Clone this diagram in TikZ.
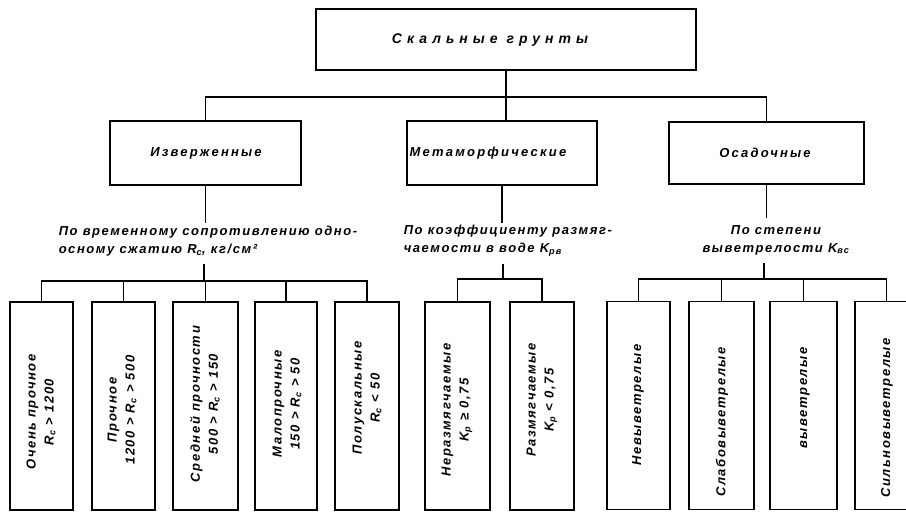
\documentclass[tikz,border=0pt]{standalone}
\usepackage{fontspec}
\setmainfont{Liberation Sans}
\begin{document}
\begin{tikzpicture}[x=1pt,y=-1pt,line width=1.5pt,
  box/.style={draw,line width=1.5pt,inner sep=0pt},
  ttop/.style={inner sep=0pt,font=\bfseries\itshape\fontsize{14}{16}\selectfont\addfontfeature{LetterSpace=36}},
  tmid/.style={inner sep=0pt,font=\bfseries\itshape\fontsize{13}{15}\selectfont\addfontfeature{LetterSpace=17}},
  tlab/.style={inner sep=0pt,font=\bfseries\itshape\fontsize{13}{18}\selectfont\addfontfeature{LetterSpace=12}},
  trot/.style={inner sep=0pt,rotate=90,align=center,font=\bfseries\itshape\fontsize{13}{18}\selectfont\addfontfeature{LetterSpace=12}},
  tall/.style={box,minimum height=208pt}]
\clip (0,0) rectangle (906,514);
\fill[white] (0,0) rectangle (906,514);
% top level
\node[box,minimum width=380pt,minimum height=61pt] (top) at (506,39.5) {};
\node[ttop] (topt) at (490,40) {Скальные грунты};
% second level
\node[box,minimum width=191pt,minimum height=64pt] (izv) at (205.5,153) {};
\node[tmid] (izvt) at (206,153) {Изверженные};
\node[box,minimum width=190pt,minimum height=64pt] (met) at (502,153) {};
\node[tmid] (mett) at (488,153) {Метаморфические};
\node[box,minimum width=195pt,minimum height=62pt] (osa) at (766.5,153) {};
\node[tmid] (osat) at (765,153) {Осадочные};
\coordinate (bus) at (506,97);
\draw (top.south) -- (top.south |- met.north);
\draw (izv.north) |- (bus) -| (osa.north);
% criteria labels
\node[tlab,align=left,anchor=west] (lab1) at (58,241) {По временному сопротивлению одно-\\осному сжатию R\textsubscript{с}, кг/см²};
\node[tlab,align=left,anchor=west] (lab2) at (403,241) {По коэффициенту размяг-\\чаемости в воде K\textsubscript{рв}};
\node[tlab,align=center] (lab3) at (776,240) {По степени\\выветрелости K\textsubscript{вс}};
% bottom boxes
\node[tall,minimum width=63pt] (b1) at (41.5,406) {};
\node[tall,minimum width=63pt] (b2) at (123.5,406) {};
\node[tall,minimum width=65pt] (b3) at (205.5,406) {};
\node[tall,minimum width=62pt] (b4) at (286,406) {};
\node[tall,minimum width=64pt] (b5) at (367,406) {};
\node[tall,minimum width=65pt] (b6) at (457.5,406) {};
\node[tall,minimum width=64pt] (b7) at (542,406) {};
\node[tall,minimum width=63pt] (b8) at (638.5,405.5) {};
\node[tall,minimum width=65pt] (b9) at (721.5,405.5) {};
\node[tall,minimum width=67pt] (b10) at (803.5,405.5) {};
\node[tall,minimum width=63pt] (b11) at (886.5,405.5) {};
\node[trot] (b1t) at (41,412) {Очень прочное\\R\textsubscript{с} > 1200};
\node[trot] (b2t) at (122,410) {Прочное\\1200 > R\textsubscript{с} > 500};
\node[trot] (b3t) at (205,404) {Средней прочности\\500 > R\textsubscript{с} > 150};
\node[trot] (b4t) at (287,404) {Малопрочные\\150 > R\textsubscript{с} > 50};
\node[trot] (b5t) at (367,398) {Полускальные\\R\textsubscript{с} < 50};
\node[trot] (b6t) at (457,410) {Неразмягчаемые\\K\textsubscript{р} ≥ 0,75};
\node[trot] (b7t) at (542,400) {Размягчаемые\\K\textsubscript{р} < 0,75};
\node[trot] (b8t) at (638,405) {Невыветрелые};
\node[trot] (b9t) at (722,422) {Слабовыветрелые};
\node[trot] (b10t) at (805,398) {выветрелые};
\node[trot] (b11t) at (887,418) {Сильновыветрелые};
% connectors level 3
\coordinate (g1) at (204,281);
\coordinate (g2) at (503,279);
\coordinate (g3) at (764,279);
\draw (izv.south) -- ++(0,37);
\draw (met.south) -- ++(0,37);
\draw (osa.south) -- ++(0,33);
\draw (g1) -- ++(0,-17);
\draw (g2) -- ++(0,-15);
\draw (g3) -- ++(0,-16);
\draw (b1.north) |- (g1) -| (b5.north);
\foreach \b in {b2,b3,b4} \draw (\b.north) -- (\b.north |- g1);
\draw (b6.north) |- (g2) -| (b7.north);
\draw (b8.north) |- (g3) -| (b11.north);
\foreach \b in {b9,b10} \draw (\b.north) -- (\b.north |- g3);
\end{tikzpicture}
\end{document}
